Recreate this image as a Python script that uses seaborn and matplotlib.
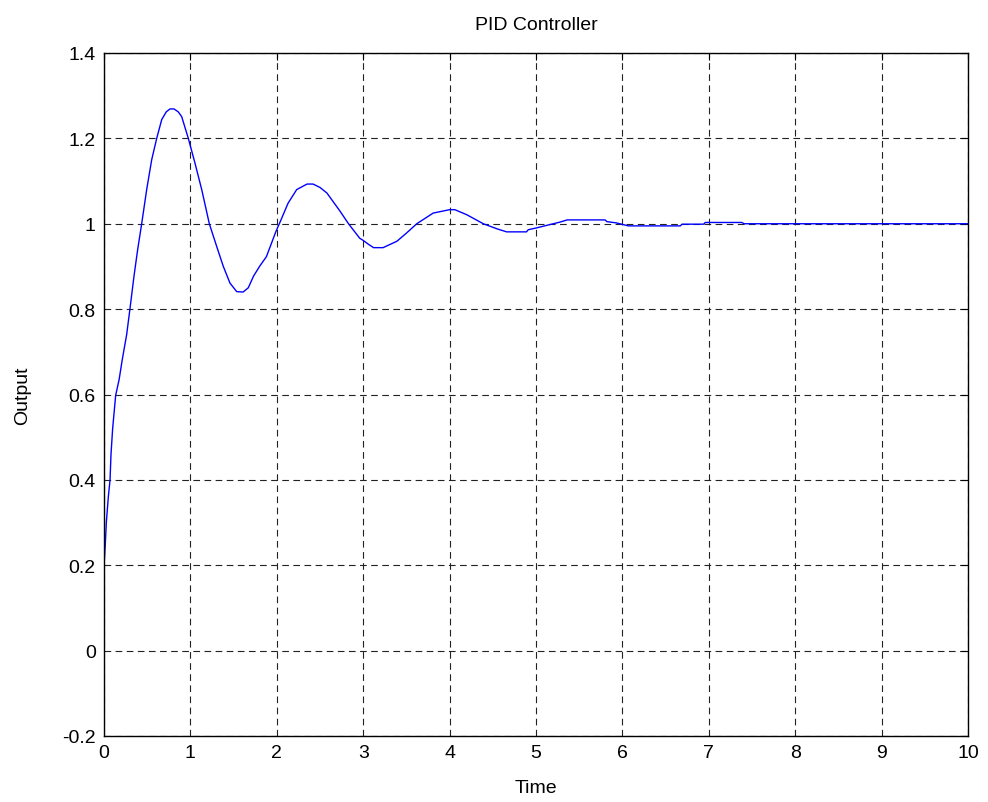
import matplotlib
matplotlib.use("Agg")
import matplotlib.pyplot as plt
import seaborn as sns
import pandas as pd

# Step response
time = [0, 0, 0.015, 0.027, 0.05, 0.07, 0.081, 0.10, 0.135, 0.175, 0.21, 0.262,
        0.30, 0.347, 0.39, 0.436, 0.494, 0.552, 0.61, 0.668, 0.72, 0.764, 0.81,
        0.86, 0.899, 0.976, 1.053, 1.131, 1.219, 1.304, 1.381, 1.458, 1.536,
        1.61, 1.67, 1.73, 1.80, 1.88, 1.99, 2.04, 2.13, 2.23, 2.35, 2.42, 2.50,
        2.58, 2.73, 2.83, 2.96, 3.0, 3.06, 3.12, 3.23, 3.39, 3.50, 3.62, 3.81,
        4.0, 4.06, 4.2, 4.39, 4.55, 4.66, 4.81, 4.89, 4.91, 5.0, 5.16, 5.28,
        5.36, 5.80, 5.82, 5.93, 6.07, 6.67, 6.69, 6.94, 6.96, 7.38, 7.41, 10.0]
output = [0, 0.197, 0.25, 0.30, 0.36, 0.40, 0.46, 0.52, 0.598, 0.635, 0.68, 0.74,
          0.80, 0.877, 0.94, 1.0, 1.08, 1.15, 1.2, 1.244, 1.262, 1.269, 1.269,
          1.262, 1.251, 1.2, 1.142, 1.08, 1.0, 0.947, 0.90, 0.861, 0.841,
          0.840, 0.850, 0.877, 0.90, 0.923, 0.982, 1.005, 1.048, 1.08, 1.093, 1.093, 1.085,
          1.072, 1.03, 1.0, 0.966, 0.961, 0.952, 0.944, 0.944, 0.959, 0.978, 1.0, 1.025,
          1.033, 1.033, 1.021, 1.0, 0.988, 0.981, 0.981, 0.981, 0.986, 0.99, 0.998, 1.004,
          1.009, 1.009, 1.005, 1.002, 0.995, 0.995, 0.999, 0.999, 1.003, 1.003, 1.0, 1.0]

x_ticks = [0, 1, 2, 3, 4, 5, 6, 7, 8, 9, 10]
y_ticks = [-0.2, 0, 0.2, 0.4, 0.6, 0.8, 1.0, 1.2, 1.4]
y_tick_labels = ["-0.2", "0", "0.2", "0.4", "0.6", "0.8", "1", "1.2", "1.4"]

sns.set_style("white")
plt.rcParams["font.family"] = ["Liberation Sans", "DejaVu Sans"]
plt.rcParams["text.color"] = "black"
plt.rcParams["axes.labelcolor"] = "black"

df = pd.DataFrame({"Time": time, "Output": output})

fig = plt.figure(figsize=(9.88, 8.03), dpi=100)
ax = fig.add_axes([104 / 988, 1 - 737 / 803, (968 - 104) / 988, (737 - 54) / 803])

sns.lineplot(data=df, x="Time", y="Output", estimator=None, sort=False,
             color="#0000ff", linewidth=1.0, ax=ax)

ax.set_xlim(0, 10)
ax.set_ylim(-0.2, 1.4)
ax.set_xticks(x_ticks)
ax.set_xticklabels([str(v) for v in x_ticks])
ax.set_yticks(y_ticks)
ax.set_yticklabels(y_tick_labels)

ax.grid(True, color="#222222", linestyle=(0, (6, 4)), linewidth=0.8)
ax.set_axisbelow(True)

for s in ax.spines.values():
    s.set_visible(True)
    s.set_color("black")
    s.set_linewidth(1.0)

ax.tick_params(axis="both", which="both", direction="in", length=5, width=0.8,
               top=True, right=True, labelsize=14, colors="black", pad=6)

ax.set_title("PID Controller", fontsize=14, pad=17, color="black")
ax.set_xlabel("Time", fontsize=14, labelpad=13, color="black")
ax.set_ylabel("Output", fontsize=14, labelpad=22, color="black")

fig.savefig("out.png", dpi=100, facecolor="white")
